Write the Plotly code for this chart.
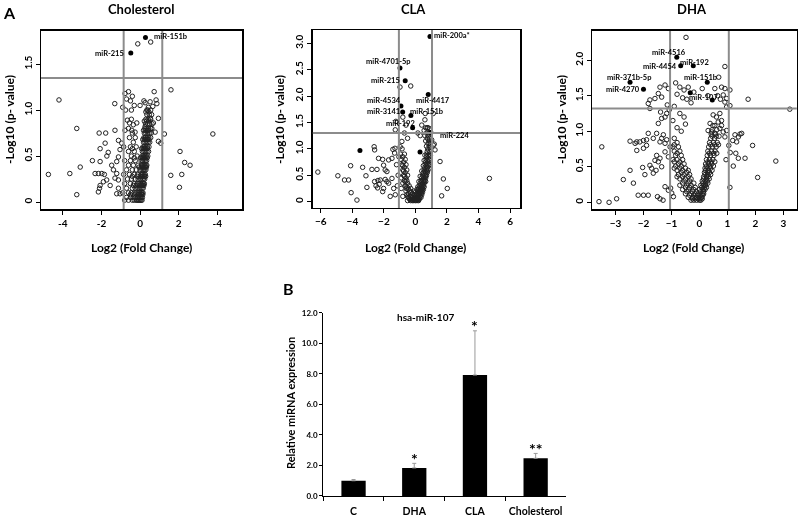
import plotly.graph_objects as go

FONT = "Lato, 'Open Sans', sans-serif"

# ---------------- Cholesterol volcano data (log2 FC, -log10 p) ----------------
chol_points = [
    (-4.75, 0.30), (-4.2, 1.11), (-3.64, 0.31), (-3.28, 0.80), (-3.1, 0.38), (-3.28, 0.08),
    (-2.47, 0.45), (-2.12, 0.75), (-1.78, 0.75), (-1.3, 0.78), (-1.31, 1.07), (-2.07, 0.58),
    (-1.81, 0.64), (-1.65, 0.54), (-1.72, 0.50), (-2.07, 0.44), (-2.33, 0.31), (-2.16, 0.31),
    (-1.98, 0.31), (-1.85, 0.30), (-1.73, 0.24), (-1.9, 0.22), (-2.07, 0.18), (-2.1, 0.15),
    (-2.16, 0.11), (-1.55, 0.18), (-1.47, 0.40), (-1.38, 0.35), (-1.21, 0.31), (-1.12, 0.24),
    (-1.3, 0.26), (-1.12, 0.67), (-1.04, 0.57), (-1.12, 0.49), (-1.21, 0.44), (-0.95, 0.64),
    (-1.12, 0.15), (-1.04, 0.09), (-1.21, 0.09), (-0.78, 1.18), (-0.7, 1.12), (-0.6, 1.2),
    (-0.5, 1.1), (-0.4, 1.15), (-0.3, 1.05), (-0.45, 1.0), (-0.75, 1.0), (-0.9, 1.03),
    (-0.78, 0.78), (-0.66, 0.89), (-0.55, 0.86), (-0.43, 0.78), (-0.35, 0.84), (-0.17, 0.86),
    (-0.26, 0.76), (1.6, 1.22), (0.73, 1.20), (0.26, 1.08), (0.52, 1.09), (0.83, 1.11),
    (0.87, 1.07), (0.66, 1.04), (0.43, 1.03), (0.35, 1.0), (0.95, 0.91), (0.69, 0.86),
    (0.52, 0.91), (0.26, 0.82), (0.61, 0.8), (0.78, 0.76), (1.26, 0.74), (3.77, 0.74),
    (0.95, 0.66), (1.07, 0.64), (2.07, 0.55), (2.31, 0.43), (2.59, 0.40), (2.16, 0.30),
    (1.59, 0.29), (2.04, 0.16), (-0.12, 1.72), (0.55, 1.74), (0.2, 1.1), (0.0, 1.05),
]
chol_core = {
    0.02: [-0.8, -0.6, -0.4, -0.3, -0.2, -0.15, -0.1, -0.05, 0.0, 0.05, 0.1],
    0.05: [-0.7, -0.5, -0.35, -0.25, -0.15, -0.08, 0.0, 0.06, 0.12],
    0.08: [-0.5, -0.3, -0.1, 0.0, 0.08, 0.14],
    0.10: [-0.9, -0.6, -0.45, -0.3, -0.2, -0.1, -0.02, 0.05, 0.1, 0.15],
    0.15: [-0.7, -0.4, -0.25, -0.12, -0.05, 0.03, 0.1, 0.16],
    0.18: [-0.35, -0.2, -0.02, 0.08, 0.15, 0.2],
    0.20: [-0.8, -0.5, -0.3, -0.15, -0.05, 0.05, 0.12, 0.18, 0.22],
    0.25: [-0.65, -0.45, -0.25, -0.1, 0.02, 0.1, 0.17, 0.24],
    0.28: [-0.4, -0.15, 0.0, 0.1, 0.16, 0.23, 0.29],
    0.30: [-0.85, -0.55, -0.3, -0.12, 0.05, 0.12, 0.2, 0.27],
    0.35: [-0.7, -0.4, -0.2, 0.0, 0.1, 0.17, 0.24, 0.3],
    0.38: [-0.05, 0.06, 0.13, 0.2, 0.27, 0.33],
    0.40: [-0.6, -0.35, -0.1, 0.08, 0.15, 0.22, 0.3, 0.35],
    0.45: [-0.8, -0.5, -0.25, 0.05, 0.12, 0.2, 0.27, 0.34],
    0.48: [-0.3, 0.02, 0.1, 0.16, 0.23, 0.3, 0.37],
    0.50: [-0.45, -0.15, 0.1, 0.17, 0.25, 0.32, 0.4],
    0.55: [-0.6, -0.3, 0.12, 0.2, 0.28, 0.36, 0.44],
    0.58: [-0.4, 0.08, 0.15, 0.22, 0.3, 0.38],
    0.60: [-0.85, -0.5, -0.2, 0.15, 0.22, 0.3, 0.38, 0.46],
    0.65: [-0.35, 0.18, 0.26, 0.34, 0.42, 0.5],
    0.68: [0.14, 0.22, 0.3, 0.38, 0.46],
    0.70: [-0.55, -0.25, 0.2, 0.28, 0.36, 0.45, 0.55],
    0.75: [-0.4, 0.22, 0.3, 0.4, 0.5, 0.58],
    0.78: [0.18, 0.27, 0.36, 0.46],
    0.80: [-0.6, 0.25, 0.35, 0.45, 0.55],
    0.85: [0.28, 0.4, 0.5, 0.62],
    0.88: [0.22, 0.33, 0.45],
    0.90: [-0.45, 0.3, 0.42, 0.55],
    0.95: [0.35, 0.48, 0.6],
    0.98: [0.3, 0.45],
    1.00: [0.4, 0.55],
}
chol_sig_fc = [0.28, -0.48]
chol_sig_p = [1.79, 1.62]

# ---------------- CLA volcano data ----------------
cla_points = [
    (-6.19, 0.56), (-4.92, 0.49), (-4.5, 0.41), (-4.24, 0.41), (-4.11, 0.68), (-4.08, 0.17),
    (-3.71, 0.03), (-3.35, 0.65), (-3.08, 0.27), (-3.14, 0.49), (-2.62, 1.04), (-2.59, 0.98),
    (-2.76, 0.61), (-2.44, 0.61), (-2.34, 0.82), (-2.08, 0.80), (-2.59, 0.38), (-2.38, 0.40),
    (-2.23, 0.41), (-2.4, 0.26), (-2.5, 0.3), (-2.3, 0.33), (-2.02, 0.25), (-2.08, 0.19),
    (-2.02, 0.69), (-1.92, 0.6), (-1.81, 0.57), (-1.7, 0.79), (-1.49, 0.82), (-1.32, 0.92),
    (-1.43, 0.99), (-1.7, 0.35), (-1.49, 0.44), (-1.38, 0.25), (-1.28, 0.13), (-1.6, 0.1),
    (-1.92, 0.42), (-1.81, 0.38), (-1.28, 1.36), (-0.97, 1.04), (-0.86, 1.14), (-1.3, 1.01),
    (-1.2, 0.7), (-1.1, 0.5), (-1.15, 0.3), (-1.05, 0.85), (1.56, 0.76), (1.77, 0.43),
    (2.02, 0.25), (1.66, 0.11), (4.69, 0.44), (1.24, 0.98), (1.13, 1.07), (1.03, 1.17),
    (1.19, 1.09), (-0.3, 2.19), (-0.98, 2.17), (0.62, 1.67), (1.13, 1.67), (-1.24, 1.52),
    (0.6, 1.55), (0.4, 1.45), (0.75, 1.4), (0.9, 1.38), (0.55, 1.35), (-0.6, 1.45),
    (-0.8, 1.6), (-0.5, 1.2), (-0.7, 1.3), (0.3, 1.25), (0.15, 1.3),
]
cla_core = {
    0.02: [-0.5, -0.3, -0.2, -0.1, 0.0, 0.1, 0.2],
    0.04: [-0.35, -0.15, 0.0, 0.12, 0.22],
    0.06: [-0.4, -0.25, -0.1, 0.05, 0.15, 0.25],
    0.08: [-0.45, -0.2, -0.05, 0.1, 0.2, 0.35],
    0.10: [-0.8, -0.5, -0.3, -0.15, 0.0, 0.15, 0.3],
    0.13: [-0.55, -0.1, 0.1, 0.25, 0.4],
    0.15: [-0.45, -0.2, 0.05, 0.2, 0.35],
    0.18: [-0.3, 0.0, 0.2, 0.35, 0.45],
    0.20: [-0.6, -0.35, -0.1, 0.15, 0.3, 0.4],
    0.23: [-0.45, 0.1, 0.28, 0.4, 0.5],
    0.25: [-0.9, -0.55, -0.3, 0.2, 0.35, 0.45],
    0.28: [-0.55, 0.15, 0.32, 0.45, 0.55],
    0.30: [-0.65, -0.4, 0.25, 0.4, 0.5],
    0.35: [-0.8, -0.5, 0.3, 0.45, 0.55],
    0.38: [-0.65, 0.22, 0.4, 0.55, 0.65],
    0.40: [-0.7, -0.55, 0.35, 0.5, 0.6],
    0.45: [-0.9, -0.6, 0.4, 0.55, 0.65],
    0.48: [-0.7, 0.3, 0.5, 0.65],
    0.50: [-0.75, -0.5, 0.45, 0.6, 0.7],
    0.55: [-0.65, 0.5, 0.65, 0.75],
    0.58: [-0.75, 0.4, 0.6, 0.75],
    0.60: [-0.8, -0.55, 0.55, 0.7, 0.8],
    0.65: [-0.7, 0.6, 0.75],
    0.68: [-0.8, 0.5, 0.7, 0.85],
    0.70: [-0.85, -0.6, 0.62, 0.78, 0.88],
    0.75: [-0.75, 0.65, 0.8],
    0.78: [0.55, 0.75, 0.9],
    0.80: [-0.9, -0.65, 0.68, 0.85],
    0.85: [-0.8, 0.7, 0.88],
    0.88: [0.6, 0.8, 0.95],
    0.90: [-0.95, -0.7, 0.72, 0.9],
    0.95: [0.75, 0.92],
    1.00: [-0.85, 0.78, 0.95],
    1.05: [0.7, 0.88],
    1.10: [0.8, 0.95],
    1.15: [0.65, 0.85],
    1.20: [0.75, 0.9],
    1.25: [0.6, 0.8],
    1.30: [0.7, 0.85, 0.95],
    1.40: [0.65, 0.8],
}
cla_sig_fc = [0.92, -0.98, -0.65, 0.81, -0.92, -0.81, -0.29, -0.18, 0.98, -3.52, 0.29]
cla_sig_p = [3.13, 2.53, 2.29, 2.03, 1.81, 1.70, 1.63, 1.40, 1.31, 0.97, 0.94]

# ---------------- DHA volcano data ----------------
dha_points = [
    (-3.59, 0.01), (-3.23, 0.0), (-2.96, 0.05), (-3.49, 0.78), (-2.72, 0.32), (-2.48, 0.45),
    (-2.48, 0.86), (-2.3, 0.83), (-2.24, 0.85), (-2.13, 0.85), (-2.0, 0.87), (-1.89, 0.88),
    (-1.83, 0.97), (-2.24, 0.73), (-2.0, 0.76), (-1.89, 0.80), (-2.36, 0.27), (-2.19, 0.10),
    (-2.0, 0.10), (-1.83, 0.10), (-2.03, 0.49), (-1.95, 0.39), (-1.77, 0.52), (-1.71, 0.48),
    (-1.65, 0.41), (-1.55, 0.45), (-1.35, 0.50), (-1.47, 0.57), (-1.59, 0.59), (-1.65, 0.9),
    (-1.53, 0.97), (-1.41, 0.85), (-1.35, 0.9), (-1.29, 0.95), (-1.23, 0.83), (-1.17, 0.88),
    (-1.53, 0.66), (-1.41, 0.62), (-1.23, 0.71), (-1.11, 0.64), (-1.05, 0.78), (-1.83, 1.39),
    (-1.77, 1.32), (-1.77, 1.44), (-1.59, 1.46), (-1.47, 1.53), (-1.35, 1.48), (-1.41, 1.62),
    (-1.23, 1.65), (-1.11, 1.6), (-1.47, 1.11), (-1.35, 1.18), (-1.23, 1.2), (-1.39, 1.27),
    (-1.17, 1.25), (-1.08, 1.3), (-1.15, 1.37), (-1.41, 0.05), (-1.5, 0.08), (-1.3, 0.03),
    (-1.23, 0.22), (-1.11, 0.17), (-0.99, 0.13), (-0.93, 0.08), (-1.03, 0.2),
    (-0.48, 2.32), (0.91, 1.91), (0.69, 1.76), (-0.85, 1.68), (-0.7, 1.62), (-0.55, 1.58),
    (-0.8, 1.52), (-0.6, 1.47), (-0.45, 1.45), (-0.3, 1.4), (-0.4, 1.62), (-0.2, 1.55),
    (0.1, 1.6), (0.3, 1.5), (0.55, 1.6), (0.65, 1.5), (0.75, 1.45), (-0.9, 1.35),
    (-0.7, 1.25), (-0.55, 1.2), (-0.95, 1.15), (-0.8, 1.05), (-0.65, 1.0), (-0.5, 1.1),
    (1.74, 1.45), (3.23, 1.31), (1.9, 0.80), (2.73, 0.58), (2.08, 0.35), (1.09, 0.21),
    (1.21, 0.51), (1.39, 0.62), (1.63, 0.62), (1.3, 0.69), (1.45, 0.96), (1.51, 0.97),
    (1.39, 0.92), (1.27, 0.95), (1.33, 0.85), (1.19, 0.87), (0.79, 1.62), (0.91, 1.6),
    (1.09, 1.58), (0.85, 1.51), (0.97, 1.46), (0.91, 1.41), (1.09, 1.36), (0.97, 1.34),
    (0.49, 1.23), (0.61, 1.2), (0.73, 1.25), (0.79, 1.15), (0.67, 1.13), (0.55, 1.08),
    (0.38, 1.11), (0.31, 1.01), (0.44, 0.99), (0.55, 0.97), (0.73, 1.04), (0.79, 1.08),
    (0.85, 0.99), (0.97, 1.01), (0.91, 0.92), (1.05, 0.8), (1.1, 0.7), (0.95, 0.6),
]
dha_core = {
    0.03: [-0.3, -0.2, -0.1, 0.0, 0.05],
    0.05: [-0.25, -0.15, -0.05, 0.02, 0.1],
    0.07: [-0.4, -0.25, -0.12, -0.02, 0.08],
    0.10: [-0.35, -0.2, -0.08, 0.05, 0.12],
    0.12: [-0.5, -0.3, -0.15, -0.05, 0.1, 0.15],
    0.15: [-0.45, -0.25, -0.1, 0.05, 0.15],
    0.18: [-0.6, -0.4, -0.2, 0.0, 0.12, 0.2],
    0.21: [-0.5, -0.35, -0.15, 0.08, 0.18, 0.25],
    0.24: [-0.7, -0.45, -0.3, 0.05, 0.15, 0.22],
    0.27: [-0.6, -0.4, -0.2, 0.12, 0.22, 0.3],
    0.30: [-0.55, -0.35, 0.1, 0.2, 0.28],
    0.33: [-0.7, -0.5, -0.3, 0.15, 0.25, 0.35],
    0.36: [-0.8, -0.6, -0.4, 0.15, 0.25, 0.32],
    0.39: [-0.75, -0.55, -0.35, 0.2, 0.3, 0.4],
    0.42: [-0.65, -0.45, 0.18, 0.28, 0.36],
    0.45: [-0.8, -0.6, -0.4, 0.22, 0.32, 0.45],
    0.48: [-0.9, -0.7, -0.5, 0.2, 0.3, 0.4],
    0.51: [-0.85, -0.65, 0.25, 0.38, 0.5],
    0.54: [-0.75, -0.55, 0.22, 0.33, 0.44],
    0.57: [-0.9, -0.7, 0.3, 0.42, 0.55],
    0.60: [-0.95, -0.8, -0.6, 0.25, 0.36, 0.48],
    0.66: [-0.85, -0.65, 0.28, 0.4, 0.52],
    0.69: [-0.8, 0.35, 0.5, 0.62],
    0.72: [-0.9, -0.7, 0.3, 0.43, 0.56],
    0.78: [-0.95, -0.75, 0.33, 0.46, 0.6],
    0.81: [-0.9, 0.4, 0.55, 0.68],
    0.84: [-0.8, 0.36, 0.5, 0.64],
    0.90: [-0.9, 0.4, 0.54],
    0.93: [0.45, 0.6, 0.7],
    0.96: [0.42, 0.58],
    1.02: [0.45, 0.62],
    1.08: [0.48],
}
dha_sig_fc = [-0.81, -0.67, -0.22, -2.48, -2.0, 0.28, -0.33, 0.46]
dha_sig_p = [2.04, 1.92, 1.92, 1.69, 1.59, 1.69, 1.54, 1.44]

# ---------------- Bar chart data ----------------
bar_categories = ["C", "DHA", "CLA", "Cholesterol"]
bar_values = [1.0, 1.84, 7.93, 2.47]
bar_errors = [0.08, 0.3, 2.9, 0.32]
bar_marks = ["", "*", "*", "**"]


def unpack(points, core):
    xs = [p[0] for p in points]
    ys = [p[1] for p in points]
    for yv, xlist in core.items():
        for xv in xlist:
            xs.append(xv)
            ys.append(yv)
    return xs, ys


fig = go.Figure()

panels = [
    ("x", "y", chol_points, chol_core, chol_sig_fc, chol_sig_p),
    ("x2", "y2", cla_points, cla_core, cla_sig_fc, cla_sig_p),
    ("x3", "y3", dha_points, dha_core, dha_sig_fc, dha_sig_p),
]
for xa, ya, pts, core, sfc, sp in panels:
    xs, ys = unpack(pts, core)
    fig.add_trace(go.Scatter(x=xs, y=ys, mode="markers", xaxis=xa, yaxis=ya,
                             marker=dict(symbol="circle-open", size=4.5, color="#222222",
                                         line=dict(width=1)),
                             showlegend=False, hoverinfo="skip"))
    fig.add_trace(go.Scatter(x=sfc, y=sp, mode="markers", xaxis=xa, yaxis=ya,
                             marker=dict(symbol="circle", size=5, color="black"),
                             showlegend=False, hoverinfo="skip"))

# bars
fig.add_trace(go.Bar(x=bar_categories, y=bar_values, xaxis="x4", yaxis="y4",
                     marker=dict(color="black"), width=0.4, showlegend=False,
                     hoverinfo="skip",
                     error_y=dict(type="data", array=bar_errors,
                                  arrayminus=[0] * len(bar_errors),
                                  color="#9a9a9a", thickness=1, width=2)))

tick_font = dict(size=10, family=FONT, color="black", weight="bold")
frame = dict(showline=True, mirror=True, linecolor="black", linewidth=1.5,
             showgrid=False, zeroline=False, ticks="outside", ticklen=4,
             tickcolor="black", tickfont=tick_font, automargin=False)

ydom = [0.5965, 0.9402]
fig.update_layout(
    template="none",
    width=800, height=518, autosize=False,
    margin=dict(l=0, r=0, t=0, b=0, pad=0),
    paper_bgcolor="white", plot_bgcolor="white",
    font=dict(family=FONT, color="black", weight="bold"),
    xaxis=dict(domain=[0.0513, 0.3025], range=[-5.13, 5.28], anchor="y",
               tickvals=[-4, -2, 0, 2, 4], ticktext=["-4", "-2", "0", "2", "-4"], **frame),
    yaxis=dict(domain=ydom, range=[-0.076, 1.86], anchor="x", tickangle=-90,
               tickvals=[0, 0.5, 1.0, 1.5], ticktext=["0", "0.5", "1.0", "1.5"], **frame),
    xaxis2=dict(domain=[0.391, 0.65], range=[-6.51, 6.63], anchor="y2",
                tickvals=[-6, -4, -2, 0, 2, 4, 6], **frame),
    yaxis2=dict(domain=[0.5985, 0.942], range=[-0.12, 3.25], anchor="x2", tickangle=-90,
                tickvals=[0, 0.5, 1, 1.5, 2, 2.5, 3],
                ticktext=["0", "0.5", "1.0", "1.5", "2.0", "2.5", "3.0"], **frame),
    xaxis3=dict(domain=[0.74, 0.996], range=[-3.84, 3.48], anchor="y3",
                tickvals=[-3, -2, -1, 0, 1, 2, 3], **frame),
    yaxis3=dict(domain=ydom, range=[-0.094, 2.41], anchor="x3", tickangle=-90,
                tickvals=[0, 0.5, 1, 1.5, 2], ticktext=["0", "0.5", "1.0", "1.5", "2.0"],
                **frame),
    xaxis4=dict(domain=[0.404, 0.7075], anchor="y4", showline=True, linecolor="black",
                linewidth=1, ticks="outside", ticklen=4, tickson="boundaries",
                tickcolor="black", showgrid=False, tickangle=0, automargin=False,
                ticklabelstandoff=5,
                tickfont=dict(size=10.5, family=FONT, color="black", weight="bold")),
    yaxis4=dict(domain=[0.0425, 0.3958], range=[0, 12], anchor="x4", showline=True,
                linecolor="black", linewidth=1, ticks="outside", ticklen=3,
                tickcolor="black", showgrid=False, zeroline=False, dtick=2,
                tickformat=".1f", automargin=False,
                tickfont=dict(size=8, family=FONT, color="black", weight="bold")),
    bargap=0.6,
)

# threshold lines
thresholds = [("x", "y", [-0.85, 1.15], 1.35),
              ("x2", "y2", [-1.05, 1.05], 1.30),
              ("x3", "y3", [-1.05, 1.05], 1.32)]
for xa, ya, vlines, hline in thresholds:
    for v in vlines:
        fig.add_shape(type="line", xref=xa, yref=ya + " domain", x0=v, x1=v, y0=0, y1=1,
                      line=dict(color="#8c8c8c", width=2))
    fig.add_shape(type="line", xref=xa + " domain", yref=ya, x0=0, x1=1, y0=hline, y1=hline,
                  line=dict(color="#8c8c8c", width=2))

lab_font = dict(size=7.5, family=FONT, color="black", weight="bold")


def lab(text, x, y, xa, ya, anchor="center"):
    fig.add_annotation(text=text, x=x, y=y, xref=xa, yref=ya, showarrow=False,
                       xanchor=anchor, yanchor="middle", font=lab_font)


# Cholesterol labels
lab("miR-151b", 0.62, 1.8, "x", "y", "left")
lab("miR-215", -0.73, 1.61, "x", "y", "right")
# CLA labels
lab("miR-200a*", 1.07, 3.14, "x2", "y2", "left")
lab("miR-4701-5p", -1.73, 2.66, "x2", "y2")
lab("miR-215", -0.84, 2.30, "x2", "y2", "right")
lab("miR-4534", -1.98, 1.91, "x2", "y2")
lab("miR-4417", 1.13, 1.91, "x2", "y2")
lab("miR-3141", -0.88, 1.70, "x2", "y2", "right")
lab("miR-151b", 0.67, 1.70, "x2", "y2")
lab("miR-192", -0.94, 1.48, "x2", "y2")
lab("miR-224", 1.41, 1.26, "x2", "y2", "left")
# DHA labels
lab("miR-4516", -1.09, 2.11, "x3", "y3")
lab("miR-4454", -0.72, 1.91, "x3", "y3", "right")
lab("miR-192", -0.16, 1.97, "x3", "y3")
lab("miR-371b-5p", -2.52, 1.75, "x3", "y3")
lab("miR-4270", -2.06, 1.58, "x3", "y3", "right")
lab("miR-151b", 0.04, 1.75, "x3", "y3")
lab("miR-107", 0.14, 1.48, "x3", "y3")


def ptext(text, px, py, size, angle=0):
    fig.add_annotation(text=text, x=px / 800, y=1 - py / 518, xref="paper", yref="paper",
                       showarrow=False, xanchor="center", yanchor="middle", textangle=angle,
                       font=dict(size=size, family=FONT, color="black", weight="bold"))


# panel titles and axis titles
ptext("Cholesterol", 141, 9, 13)
ptext("CLA", 413, 9, 13)
ptext("DHA", 692, 9, 13)
for cx in (141, 415, 693):
    ptext("Log2 (Fold Change)", cx, 247, 12)
ptext("-Log10 (p- value)", 10, 120, 12, -90)
ptext("-Log10 (p- value)", 280, 120, 12, -90)
ptext("-Log10 (p- value)", 562, 120, 12, -90)
ptext("A", 9, 13, 16)
ptext("B", 288, 288, 16)
ptext("Relative miRNA expression", 290, 403, 11, -90)
ptext("hsa-miR-107", 425, 317, 10)

# significance asterisks
for cat, v, e, m in zip(bar_categories, bar_values, bar_errors, bar_marks):
    if m:
        fig.add_annotation(text=m, x=cat, y=v + e, xref="x4", yref="y4", showarrow=False,
                           xanchor="center", yanchor="middle", yshift=5,
                           font=dict(size=16, family=FONT, color="black"))

# the page body has a default 8px margin; remove it so the figure fills the window,
# and render text with grayscale antialiasing
fig.write_html(
    "out.html",
    config={"displayModeBar": False, "staticPlot": True},
    post_script="document.body.style.margin='0';"
                "document.body.style.overflow='hidden';"
                "var g=document.querySelector('.plotly-graph-div');"
                "if(g){g.style.willChange='transform';}",
)
